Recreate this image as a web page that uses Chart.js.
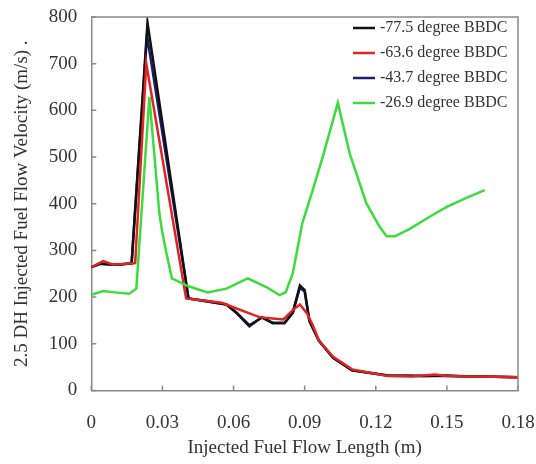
<!DOCTYPE html>
<html>
<head>
<meta charset="utf-8">
<script src="https://cdn.jsdelivr.net/npm/chart.js@4"></script>
<style>
  html, body { margin: 0; padding: 0; background: #fff; }
  #wrap { width: 536px; height: 464px; }
</style>
</head>
<body>
<div id="wrap"><canvas id="flowChart"></canvas></div>
<script>
const seriesNames = [
    '-77.5 degree BBDC',
    '-63.6 degree BBDC',
    '-43.7 degree BBDC',
    '-26.9 degree BBDC'
];
const seriesColors = ['#111111', '#e02424', '#1c1c70', '#3ddc3d'];

const xTicks = [0, 0.03, 0.06, 0.09, 0.12, 0.15, 0.18];
const yTicks = [0, 100, 200, 300, 400, 500, 600, 700, 800];

// -77.5 degree
const x775 = [0, 0.004, 0.008, 0.012, 0.017, 0.0237, 0.041, 0.048, 0.057, 0.061, 0.0667, 0.072, 0.0765, 0.0815, 0.085, 0.088, 0.090, 0.092, 0.096, 0.102, 0.110, 0.125, 0.140, 0.150, 0.160, 0.170, 0.180];
const y775 = [264, 272, 270, 270, 272, 788, 197, 192, 184, 167, 137, 157, 144, 144, 167, 225, 215, 150, 107, 70, 43, 32, 31, 32, 30, 29, 28];

// -63.6 degree
const x636 = [0, 0.005, 0.009, 0.013, 0.0185, 0.0232, 0.040, 0.048, 0.055, 0.061, 0.0667, 0.071, 0.0765, 0.081, 0.085, 0.088, 0.091, 0.0935, 0.096, 0.102, 0.110, 0.125, 0.135, 0.145, 0.150, 0.160, 0.170, 0.180];
const y636 = [264, 277, 270, 271, 273, 700, 197, 192, 188, 176, 165, 157, 154, 152, 172, 184, 165, 139, 107, 72, 45, 31, 30, 34, 31, 30, 29, 28];

// -43.7 degree (mostly hidden under the others)
const x437 = [0, 0.004, 0.008, 0.012, 0.017, 0.0235, 0.041, 0.048, 0.057, 0.061, 0.0667, 0.072, 0.0765, 0.0815, 0.085, 0.088, 0.090, 0.092, 0.096, 0.102, 0.110, 0.125, 0.140, 0.150, 0.160, 0.170, 0.180];
const y437 = [264, 271, 270, 270, 272, 760, 197, 191, 184, 168, 140, 156, 145, 145, 166, 220, 212, 148, 106, 70, 43, 32, 31, 31, 30, 29, 28];

// -26.9 degree
const x269 = [0, 0.005, 0.010, 0.016, 0.019, 0.0245, 0.0287, 0.0298, 0.0317, 0.034, 0.041, 0.049, 0.057, 0.066, 0.074, 0.0794, 0.082, 0.085, 0.089, 0.0934, 0.0976, 0.104, 0.109, 0.116, 0.1217, 0.1246, 0.128, 0.134, 0.142, 0.150, 0.158, 0.166];
const y269 = [205, 213, 210, 207, 218, 629, 380, 343, 294, 240, 223, 210, 218, 240, 221, 204, 210, 251, 358, 429, 500, 616, 508, 401, 350, 330, 330, 345, 370, 393, 412, 429];

const seriesX = [x775, x636, x437, x269];
const seriesY = [y775, y636, y437, y269];
const drawOrder = [2, 1, 3, 0];

const serif = 'Liberation Serif';

function fmt(v) {
    return String(Number(v.toFixed(2)));
}

// frame on top/right, inner tick marks, and the legend inside the plot
const framePlugin = {
    id: 'frame',
    afterDraw(chart) {
        const c = chart.ctx;
        const a = chart.chartArea;
        const xs = chart.scales.x;
        const ys = chart.scales.y;
        c.save();
        c.strokeStyle = '#8a8a8a';
        c.lineWidth = 1.5;
        c.beginPath();
        c.moveTo(a.left, a.top);
        c.lineTo(a.right, a.top);
        c.lineTo(a.right, a.bottom);
        c.stroke();

        c.beginPath();
        xTicks.forEach(t => {
            const px = xs.getPixelForValue(t);
            c.moveTo(px, a.bottom);
            c.lineTo(px, a.bottom - 5);
        });
        yTicks.forEach(t => {
            const py = ys.getPixelForValue(t);
            c.moveTo(a.left, py);
            c.lineTo(a.left + 5, py);
        });
        c.stroke();

        c.font = '16px "' + serif + '"';
        c.textBaseline = 'middle';
        c.textAlign = 'left';
        seriesNames.forEach((name, i) => {
            const y = a.top + 11 + i * 25;
            c.strokeStyle = seriesColors[i];
            c.lineWidth = 2.5;
            c.beginPath();
            c.moveTo(a.right - 165, y);
            c.lineTo(a.right - 143, y);
            c.stroke();
            c.fillStyle = '#333';
            c.fillText(name, a.right - 138, y);
        });
        c.restore();
    }
};

const ctx = document.getElementById('flowChart').getContext('2d');

new Chart(ctx, {
    type: 'line',
    data: {
        datasets: seriesNames.map((name, i) => ({
            label: name,
            data: seriesX[i].map((x, j) => ({ x: x, y: seriesY[i][j] })),
            borderColor: seriesColors[i],
            backgroundColor: seriesColors[i],
            borderWidth: 2.5,
            pointRadius: 0,
            tension: 0,
            fill: false,
            order: drawOrder[i]
        }))
    },
    options: {
        responsive: true,
        maintainAspectRatio: false,
        animation: false,
        layout: {
            padding: { left: 1, right: 18, top: 17, bottom: 0 }
        },
        plugins: {
            legend: { display: false },
            tooltip: { enabled: false }
        },
        scales: {
            x: {
                type: 'linear',
                min: 0,
                max: 0.18,
                afterBuildTicks(scale) {
                    scale.ticks = xTicks.map(v => ({ value: v }));
                },
                grid: { display: false, drawTicks: true, tickLength: 21 },
                border: { display: true, color: '#8a8a8a', width: 1.5 },
                ticks: {
                    padding: 0,
                    color: '#333',
                    font: { family: serif, size: 19 },
                    callback: v => fmt(v)
                },
                title: {
                    display: true,
                    text: 'Injected Fuel Flow Length (m)',
                    color: '#333',
                    font: { family: serif, size: 19 },
                    padding: { top: 2, bottom: 5 }
                }
            },
            y: {
                min: 0,
                max: 800,
                afterBuildTicks(scale) {
                    scale.ticks = yTicks.map(v => ({ value: v }));
                },
                grid: { display: false, drawTicks: true, tickLength: 14 },
                border: { display: true, color: '#8a8a8a', width: 1.5 },
                ticks: {
                    padding: 0,
                    color: '#333',
                    font: { family: serif, size: 19 }
                },
                title: {
                    display: true,
                    text: '2.5 DH Injected Fuel Flow Velocity (m/s) .',
                    color: '#333',
                    font: { family: serif, size: 19 },
                    padding: { top: 10, bottom: 15 }
                }
            }
        }
    },
    plugins: [framePlugin]
});
</script>
</body>
</html>
